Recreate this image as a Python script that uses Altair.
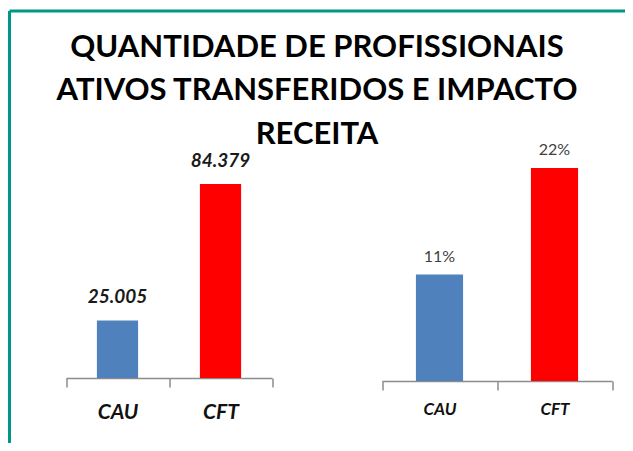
import altair as alt
import pandas as pd

categorias = ["CAU", "CFT"]
profissionais = [25005, 84379]
impacto_receita = [0.11, 0.22]
cores = ["#4f81bd", "#ff0000"]
titulo = ["QUANTIDADE DE PROFISSIONAIS", "ATIVOS TRANSFERIDOS E IMPACTO", "RECEITA"]

FONT = "Lato"
W, H = 615, 367

df_left = pd.DataFrame({
    "cat": categorias,
    "v": profissionais,
    "lab": [f"{v:,}".replace(",", ".") for v in profissionais],
})
df_right = pd.DataFrame({"cat": categorias, "v": impacto_receita})

color = alt.Color("cat:N", scale=alt.Scale(domain=categorias, range=cores), legend=None)


def x_axis(size, pad, offset):
    return alt.Axis(
        orient="bottom", title=None, labelAngle=0, domainColor="#8c8c8c", domainWidth=1.5,
        tickColor="#8c8c8c", tickWidth=1.5, tickSize=9, tickBand="extent",
        labelFont=FONT, labelFontSize=size, labelFontWeight="bold", labelFontStyle="italic",
        labelColor="#111111", labelPadding=pad, offset=offset,
    )


lx = alt.X("cat:N", sort=categorias,
           scale=alt.Scale(range=[56.5, 262.5], paddingInner=0, paddingOuter=0),
           axis=x_axis(21, 14, 0))
ly = alt.Y("v:Q", scale=alt.Scale(domain=[0, 90000], range=[367, 160]), axis=None)
left_base = alt.Chart(df_left).encode(x=lx, y=ly)
left = alt.layer(
    left_base.mark_bar(width=alt.RelativeBandSize(0.4)).encode(color=color),
    left_base.mark_text(baseline="alphabetic", dy=-17, font=FONT, fontSize=19,
                        fontWeight="bold", fontStyle="italic", color="#1a1a1a").encode(text="lab:N"),
)

rx = alt.X("cat:N", sort=categorias,
           scale=alt.Scale(range=[372.5, 602.5], paddingInner=0, paddingOuter=0),
           axis=x_axis(17, 11, 3))
ry = alt.Y("v:Q", scale=alt.Scale(domain=[0, 0.25], range=[370, 128]), axis=None)
right_base = alt.Chart(df_right).encode(x=rx, y=ry)
right = alt.layer(
    right_base.mark_bar(width=alt.RelativeBandSize(0.41)).encode(color=color),
    right_base.mark_text(baseline="alphabetic", dy=-13, font=FONT, fontSize=16,
                         color="#404040").encode(text=alt.Text("v:Q", format=".0%")),
)

frame_df = pd.DataFrame({"k": [0]})
frame = alt.layer(
    alt.Chart(frame_df).mark_rule(color="#009688", strokeWidth=3).encode(
        x=alt.value(0), x2=alt.value(700), y=alt.value(0)),
    alt.Chart(frame_df).mark_rule(color="#009688", strokeWidth=3).encode(
        x=alt.value(0), y=alt.value(0), y2=alt.value(500)),
)

chart = alt.layer(left, right, frame).resolve_scale(
    x="independent", y="independent"
).properties(
    width=W, height=H,
    autosize=alt.AutoSizeParams(type="none"),
    padding={"left": 1.5, "top": 3, "right": 0, "bottom": 65},
    title=alt.TitleParams(
        text=titulo, anchor="middle", frame="group", orient="top", baseline="top",
        font=FONT, fontSize=31, fontWeight="bold", color="#000000",
        lineHeight=43.5, offset=0, dy=141,
    ),
).configure_view(strokeWidth=0)

chart.save("out.html", embed_options={"renderer": "svg", "actions": False})
